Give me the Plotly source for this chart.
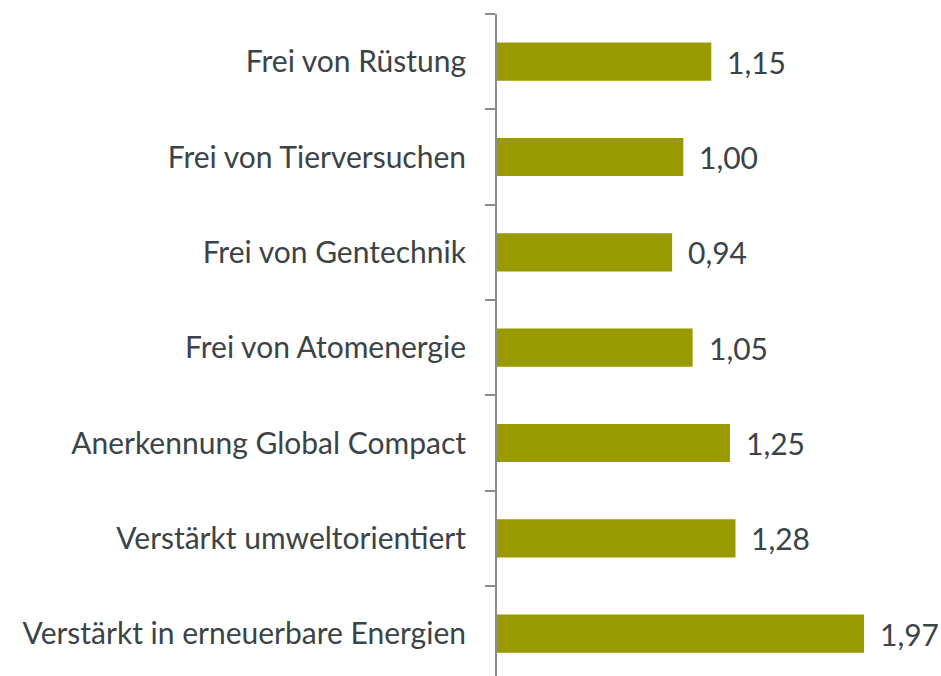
import plotly.graph_objects as go

categories = ["Verstärkt in erneuerbare Energien", "Verstärkt umweltorientiert",
              "Anerkennung Global Compact", "Frei von Atomenergie",
              "Frei von Gentechnik", "Frei von Tierversuchen", "Frei von Rüstung"]
values = [1.97, 1.28, 1.25, 1.05, 0.94, 1.00, 1.15]
value_labels = ["1,97", "1,28", "1,25", "1,05", "0,94", "1,00", "1,15"]

FONT = "Lato"
TXT = "#3b4347"

fig = go.Figure()
fig.add_trace(go.Bar(
    x=values, y=categories, orientation="h",
    marker=dict(color="#999900", line=dict(width=0)),
    width=0.4, hoverinfo="skip",
))
for c, v, t in zip(categories, values, value_labels):
    fig.add_annotation(x=v, y=c, text=t, showarrow=False, xanchor="left",
                       xshift=14, font=dict(family=FONT, size=30, color=TXT))

fig.update_layout(
    width=941, height=676,
    margin=dict(l=497, r=0, t=14, b=0),
    plot_bgcolor="white", paper_bgcolor="white",
    showlegend=False,
    xaxis=dict(range=[0, 2.383], visible=False, fixedrange=True),
    yaxis=dict(type="category", categoryorder="array", categoryarray=categories,
               range=[-0.444, 6.5], showline=True, linecolor="#8c8c8c", linewidth=2,
               ticks="outside", tickson="boundaries", ticklen=10, tickwidth=2,
               tickcolor="#8c8c8c", showgrid=False, ticklabelstandoff=23,
               fixedrange=True,
               tickfont=dict(family=FONT, size=30, color=TXT)),
)
fig.write_html("out.html", config={"displayModeBar": False},
               post_script="document.body.style.margin='0';document.body.style.overflow='hidden';")
